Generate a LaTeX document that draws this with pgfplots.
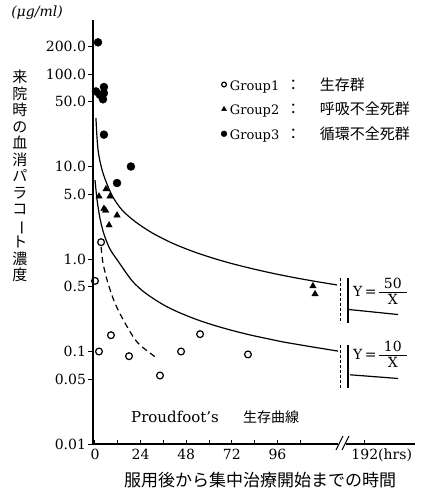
\documentclass[border=0pt]{standalone}
\usepackage{fontspec}
\setmainfont{DejaVu Serif}
\newfontfamily\jp{Noto Sans CJK JP}
\usepackage{graphicx}
\usepackage{pgfplots}
\pgfplotsset{compat=1.18,
  my leg/.style={legend image code/.code={\draw[##1, mark size=#1] plot coordinates {(0pt,0pt)};}}}
\begin{document}
\begin{tikzpicture}
\begin{axis}[
  at={(0pt,0pt)}, anchor=south west,
  scale only axis, width=322pt, height=424pt,
  ymode=log, xmin=-1.05, xmax=168.4, ymin=0.01, ymax=383.7,
  axis x line=bottom, axis y line=left,
  axis line style={line width=1.1pt, -},
  xtick={0,24,48,72,96,142},
  xticklabels={0,24,48,72,96,192\rlap{(hrs)}},
  minor xtick={12,36,60,84,108},
  ytick={0.01,0.05,0.1,0.5,1,5,10,50,100,200},
  yticklabels={0.01,0.05,0.1,0.5,1.0,5.0,10.0,50.0,100.0,200.0},
  yminorticks=false,
  tick align=outside,
  major tick length=4.5pt, minor tick length=4.5pt,
  xtick style={yshift=4.5pt},
  tick style={line width=1pt, black},
  tick label style={font=\fontsize{14}{16}\selectfont},
  yticklabel style={xshift=1pt},
  xticklabel style={yshift=3pt},
  /pgf/number format/assume math mode=true,
  clip=false,
  legend style={at={(0.388,0.872)}, anchor=north west, draw=none, fill=none,
    row sep=8.5pt, column sep=2pt, font=\fontsize{13}{15}\selectfont,
    nodes={inner sep=1pt}},
  legend cell align=left,
]
% Group 1: survivors (open circles)
\addplot[only marks, mark=o, mark size=3.4pt, line width=1.2pt, black, my leg=2.4pt]
  coordinates {(3.2,1.52) (0,0.58) (8.4,0.150) (2.1,0.1) (17.9,0.089)
               (34.2,0.055) (45.3,0.1) (55.3,0.154) (80.5,0.093)};
\addlegendentry{\makebox[56pt][l]{Group1}{\jp\fontsize{15}{15}\selectfont ：\hspace{19pt}生存群}}
% Group 2: respiratory failure deaths (triangles)
\addplot[only marks, mark=triangle*, mark size=3.7pt, black, my leg=2.8pt]
  coordinates {(5.8,5.7) (2.1,4.76) (7.9,4.76) (4.7,3.5) (5.6,3.35)
               (11.6,2.97) (7.4,2.32) (114.7,0.51) (115.8,0.418)};
\addlegendentry{\makebox[56pt][l]{Group2}{\jp\fontsize{15}{15}\selectfont ：\hspace{19pt}呼吸不全死群}}
% Group 3: circulatory failure deaths (filled circles)
\addplot[only marks, mark=*, mark size=4pt, black, my leg=2.9pt]
  coordinates {(1.6,220) (0.5,64.8) (4.7,72.3) (4.7,62.1) (4.2,53.3) (2.6,59.5)
               (4.7,22.1) (18.9,10.0) (11.6,6.63)};
\addlegendentry{\makebox[56pt][l]{Group3}{\jp\fontsize{15}{15}\selectfont ：\hspace{19pt}循環不全死群}}
% Y = 50/X curve
\addplot[smooth, line width=1.2pt, black, forget plot] coordinates {
  (0.5,33.4) (1.6,15.1) (4.2,8.51) (8.9,4.9) (14.2,3.39) (21.1,2.54) (30.0,1.92)
  (40.5,1.49) (48.9,1.265) (55.3,1.134) (64.2,0.991) (72.6,0.886) (81.6,0.796)
  (90.5,0.723) (98.9,0.665) (107.9,0.613) (116.8,0.569) (127.4,0.524)};
\addplot[line width=1.2pt, black, forget plot] coordinates {(133.2,0.285) (159.5,0.251)};
% Y = 10/X curve
\addplot[smooth, line width=1.2pt, black, forget plot] coordinates {
  (0,7.14) (1.1,4.34) (2.6,2.77) (4.7,1.86) (7.9,1.28) (12.1,0.951) (19.5,0.582)
  (26.3,0.432) (35.3,0.326) (43.7,0.267) (54.2,0.219) (63.2,0.1905) (72.6,0.168)
  (81.6,0.151) (90.5,0.138) (98.9,0.127) (107.9,0.118) (116.8,0.110) (127.9,0.101)};
\addplot[line width=1.2pt, black, forget plot] coordinates {(134.2,0.056) (159.5,0.0511)};
% Proudfoot survival curve (dashed)
\addplot[smooth, line width=1.2pt, black, dash pattern=on 6pt off 4pt, forget plot] coordinates {
  (3.2,1.35) (4.2,0.905) (6.8,0.55) (10.5,0.334) (15.8,0.203) (22.6,0.1236) (33.2,0.083)};
\end{axis}
% break marks on curves
\draw[line width=0.9pt, dash pattern=on 3pt off 2pt] (247pt,166pt) -- (247pt,121pt);
\draw[line width=1.4pt] (255pt,166pt) -- (255pt,121pt);
\draw[line width=0.9pt, dash pattern=on 3pt off 2pt] (247pt,99pt) -- (247pt,56pt);
\draw[line width=1.4pt] (255pt,99pt) -- (255pt,56pt);
% x-axis break
\fill[white] (245pt,-2pt) rectangle (253pt,2pt);
\draw[line width=1pt] (243pt,-6pt) -- (250pt,8pt);
\draw[line width=1pt] (249pt,-6pt) -- (256pt,8pt);
% curve labels
\node[anchor=west, inner sep=0, font=\fontsize{14}{16}\selectfont] at (260pt,151pt)
  {Y\,=\,\begin{tabular}{@{}c@{}}\makebox[28pt]{50}\\[-1pt]\hline\rule{0pt}{12pt}X\end{tabular}};
\node[anchor=west, inner sep=0, font=\fontsize{14}{16}\selectfont] at (260pt,88pt)
  {Y\,=\,\begin{tabular}{@{}c@{}}\makebox[28pt]{10}\\[-1pt]\hline\rule{0pt}{12pt}X\end{tabular}};
% Proudfoot label
\node[anchor=west, inner sep=0, font=\fontsize{15}{17}\selectfont] at (38pt,27pt) {Proudfoot’s};
\node[anchor=west, inner sep=0, font=\jp\fontsize{14}{15}\selectfont] at (150pt,27pt) {生存曲線};
% axis titles
\node[inner sep=0, font=\fontsize{14}{16}\selectfont\itshape] at (-56pt,431pt) {(μg/ml)};
\node[inner sep=0, align=center, font=\jp\fontsize{15}{16.5}\selectfont] at (-73pt,268pt)
  {来\\院\\時\\の\\血\\消\\パ\\ラ\\コ\\\rotatebox[origin=c]{-90}{ー}\\ト\\濃\\度};
\node[inner sep=0, font=\jp\fontsize{17}{19}\selectfont] at (167pt,-36pt) {服用後から集中治療開始までの時間};
\pgfresetboundingbox
\useasboundingbox (-93pt,-50pt) rectangle (340pt,444pt);
\end{tikzpicture}
\end{document}
